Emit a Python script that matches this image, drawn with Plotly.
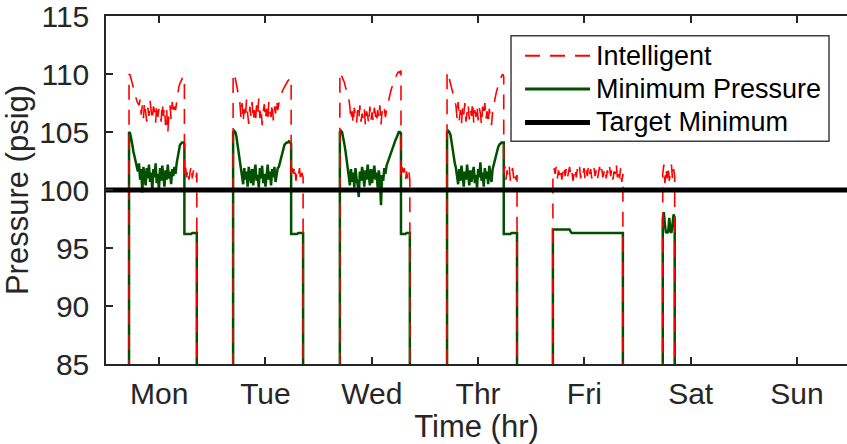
import numpy as np
import plotly.graph_objects as go

# ---------------------------------------------------------------------------
# Weekly header pressure log (psig) over a 168 h week.
# Each working day: start time, end of main shift, end of evening shift (hr).
# Values are listed in time order and spread evenly across their shift.
# ---------------------------------------------------------------------------
days = ["Mon", "Tue", "Wed", "Thr", "Fri", "Sat", "Sun"]
day_ticks = [12, 36, 60, 84, 108, 132, 156]
pressure_ticks = [85, 90, 95, 100, 105, 110, 115]
target_minimum = 100.0
off_value = 0.0  # compressors off: pressure falls away below the axis

mon_span = (5.2, 17.7, 20.5)
tue_span = (28.7, 41.8, 44.5)
wed_span = (52.8, 66.6, 68.6)
thr_span = (77.0, 89.8, 92.8)
fri_span = (100.9, 116.7, None)
sat_span = (125.7, 128.4, None)

# Intelligent control ------------------------------------------------------
mon_int_main = [110.0, 109.9, 109.5, 109.1, 108.7, 108.4, 108.0, 107.7, 107.5, 107.3,
                107.8, 106.5, 107.3, 106.2, 107.6, 106.8, 105.9, 107.1, 106.4, 107.7,
                106.6, 106.0, 107.2, 106.9, 105.8, 107.4, 106.3, 107.0, 106.7, 105.9,
                107.5, 106.4, 107.1, 105.6, 106.9, 104.9, 106.6, 107.3, 106.1, 107.6,
                106.5, 107.2, 106.9,
                107.6, 108.3, 108.9, 109.2, 109.4, 109.6, 109.5, 109.7]
mon_int_eve = [101.3, 102.0, 101.1, 101.8, 100.9, 101.6, 102.1, 101.0, 101.7, 101.2, 100.9, 101.5]

tue_int_main = [109.8, 110.1, 109.6, 109.2, 108.6, 108.0, 107.6,
                106.3, 107.5, 105.9, 107.0, 106.2, 107.8, 106.6, 105.7, 107.2, 106.4,
                107.6, 106.0, 106.9, 105.8, 107.3, 106.5, 107.9, 106.2, 107.1, 105.6,
                106.8, 107.4, 106.1, 107.0, 105.9, 107.6, 106.7, 106.3, 107.5, 106.0,
                107.2, 106.6, 107.8, 106.9, 107.5,
                107.9, 108.1, 108.5, 108.7, 108.9, 109.1, 109.2, 109.4, 109.5, 109.4, 109.6]
tue_int_eve = [101.0, 101.9, 101.4, 102.1, 100.8, 101.6, 101.2, 101.9, 100.7, 101.5, 101.1]

wed_int_main = [110.2, 110.0, 109.7, 109.6, 109.3, 108.9, 108.6, 108.2, 107.9,
                107.2, 106.0, 106.8, 105.7, 107.1, 106.3, 105.8, 106.9, 106.1, 107.3,
                105.9, 106.6, 106.2, 107.0, 105.6, 106.8, 106.4, 105.7, 107.2, 106.0,
                106.7, 105.9, 107.1, 106.5, 105.8, 106.9, 106.2, 107.3, 105.6, 106.8,
                106.4, 107.0, 106.3, 106.9,
                107.4, 107.8, 108.2, 108.6, 108.9, 109.2, 109.4, 109.7, 109.9, 110.1,
                110.2, 110.1, 110.3]
wed_int_eve = [101.2, 102.0, 101.5, 101.9, 100.8, 101.6, 101.0, 101.7, 100.9]

thr_int_main = [110.2, 110.0, 109.6, 109.3, 108.9, 108.5, 108.0, 107.5,
                107.3, 106.2, 107.6, 106.0, 106.9, 105.7, 107.2, 106.5, 107.5, 105.9,
                106.8, 107.4, 106.1, 107.0, 106.4, 107.6, 105.8, 106.9, 106.3, 107.3,
                106.0, 107.1, 106.6, 105.6, 107.2, 106.4, 107.5, 106.1, 106.8, 105.7,
                107.0, 106.3, 105.6, 106.8,
                107.2, 107.8, 108.3, 108.7, 109.1, 109.4, 109.6, 109.9, 110.0, 109.8]
thr_int_eve = [101.4, 102.1, 100.9, 101.7, 101.2, 102.0, 100.8, 101.5, 101.9, 101.0,
               101.6, 100.9, 101.3]

fri_int = [101.2, 101.9, 101.4, 102.0, 101.0, 101.7, 101.3, 101.9, 100.9, 101.6,
           102.1, 101.2, 101.8, 101.0, 101.5, 102.0, 101.3, 101.7, 100.8, 101.6,
           101.9, 101.1, 101.8, 101.4, 102.0, 101.0, 101.6, 101.3, 101.9, 100.9,
           101.7, 101.2, 102.1, 101.4, 101.8, 101.0, 101.5, 101.9, 101.2, 101.7,
           100.9, 101.6, 102.0, 101.3, 101.8, 101.1, 101.5, 101.9, 101.0, 101.7,
           101.3, 102.0, 101.2, 101.8, 100.9, 101.6, 101.4, 102.3, 101.1, 101.8,
           101.0, 101.9, 100.7, 101.4]

sat_int = [101.4, 102.2, 100.6, 101.9, 101.0, 102.1, 100.8, 101.7, 102.2, 100.9, 101.8, 101.2]

# Minimum pressure ---------------------------------------------------------
mon_min_main = [105.0, 104.9, 104.5, 103.9, 103.3, 102.8, 102.4, 102.1,
                101.6, 102.3, 100.9, 101.8, 99.8, 102.0, 101.2, 100.4, 101.9, 101.0,
                102.2, 100.7, 101.5, 99.9, 101.8, 101.1, 102.3, 100.6, 101.4, 100.0,
                101.9, 100.8, 102.1, 101.3, 100.3, 101.7, 100.9, 102.2, 101.0, 101.6,
                100.5, 101.8, 101.2, 102.0, 101.4,
                102.3, 102.9, 103.5, 103.9, 104.0, 104.1, 104.1, 104.0]
mon_min_eve = [96.2, 96.2, 96.2, 96.2, 96.2, 96.2, 96.2, 96.3, 96.3, 96.3, 96.3, 96.3]

tue_min_main = [105.0, 105.1, 105.0, 104.6, 103.9, 103.2, 102.6, 102.1,
                101.4, 100.5, 101.9, 100.9, 101.6, 100.3, 102.0, 101.2, 100.6, 101.8,
                100.4, 101.5, 102.2, 100.8, 101.3, 100.2, 101.9, 101.0, 102.1, 100.6,
                101.4, 100.3, 101.7, 102.2, 100.9, 101.6, 100.4, 101.8, 101.1, 102.0,
                100.7, 101.5, 101.9, 102.0,
                102.4, 102.9, 103.3, 103.7, 103.9, 104.0, 104.1, 104.1, 104.2, 104.1, 104.0]
tue_min_eve = [96.2, 96.2, 96.2, 96.2, 96.2, 96.2, 96.3, 96.3, 96.3, 96.3, 96.3]

wed_min_main = [105.0, 105.1, 105.0, 104.6, 104.0, 103.4, 102.8, 102.1,
                101.2, 100.4, 101.8, 100.7, 101.5, 100.2, 101.9, 101.0, 100.5, 99.4,
                101.6, 100.8, 102.0, 101.3, 100.3, 101.7, 100.9, 102.2, 101.1, 100.4,
                101.8, 100.6, 101.4, 102.1, 100.9, 101.5, 100.2, 101.7, 101.0, 98.7,
                101.3, 100.8, 101.9, 101.4,
                102.1, 102.4, 102.7, 103.0, 103.2, 103.5, 103.8, 104.0, 104.3, 104.5,
                104.8, 105.0, 105.0, 104.9]
wed_min_eve = [96.2, 96.2, 96.2, 96.2, 96.2, 96.3, 96.3, 96.3, 96.3]

thr_min_main = [105.0, 105.1, 105.0, 104.8, 104.2, 103.4, 102.9, 102.3, 101.9,
                101.3, 100.5, 101.8, 100.8, 102.1, 101.0, 100.3, 101.6, 100.9, 102.2,
                101.2, 100.4, 101.7, 100.7, 101.5, 102.0, 100.6, 101.3, 100.2, 101.8,
                101.1, 102.4, 100.8, 101.5, 100.3, 101.9, 101.0, 101.6, 100.5, 102.1,
                101.2, 100.7, 101.8, 102.2,
                102.6, 103.0, 103.4, 103.7, 103.9, 104.0, 104.1, 104.1, 104.1]
thr_min_eve = [96.2, 96.2, 96.2, 96.2, 96.2, 96.2, 96.2, 96.3, 96.3, 96.3, 96.3, 96.3, 96.3]

fri_min = [96.6] * 16 + [96.4] + [96.3] * 47

sat_min = [97.5, 98.1, 97.0, 96.3, 96.4, 96.3, 97.6, 96.5, 96.3, 97.3, 97.9, 97.6]


def build_week(segments):
    """Join daily shifts into one trace, dropping to off_value between them."""
    xs, ys = [], []
    for (t0, t1, t2), main, eve in segments:
        xs.append(t0)
        ys.append(off_value)
        xs.extend(np.linspace(t0, t1, len(main)).tolist())
        ys.extend(main)
        end = t1
        if eve is not None:
            xs.extend(np.linspace(t1, t2, len(eve)).tolist())
            ys.extend(eve)
            end = t2
        xs.append(end)
        ys.append(off_value)
    return xs, ys


int_x, int_y = build_week([
    (mon_span, mon_int_main, mon_int_eve),
    (tue_span, tue_int_main, tue_int_eve),
    (wed_span, wed_int_main, wed_int_eve),
    (thr_span, thr_int_main, thr_int_eve),
    (fri_span, fri_int, None),
    (sat_span, sat_int, None),
])
min_x, min_y = build_week([
    (mon_span, mon_min_main, mon_min_eve),
    (tue_span, tue_min_main, tue_min_eve),
    (wed_span, wed_min_main, wed_min_eve),
    (thr_span, thr_min_main, thr_min_eve),
    (fri_span, fri_min, None),
    (sat_span, sat_min, None),
])

RED = "#FF0000"
GREEN = "#005000"
INK = "#262626"
FONT = "Liberation Sans, Arial, sans-serif"
DASH = "15px,10px"
TICK_SIZE = 30
LABEL_SIZE = 31
LEGEND_SIZE = 27

fig = go.Figure()
fig.add_trace(go.Scatter(x=min_x, y=min_y, mode="lines", name="Minimum Pressure",
                         line=dict(color=GREEN, width=2.5)))
fig.add_trace(go.Scatter(x=int_x, y=int_y, mode="lines", name="Intelligent",
                         line=dict(color=RED, width=1.6, dash=DASH)))
fig.add_trace(go.Scatter(x=[0, 168], y=[target_minimum, target_minimum], mode="lines",
                         name="Target Minimum", line=dict(color="black", width=5)))

fig.update_layout(
    width=847, height=444,
    margin=dict(l=106, r=0, t=11, b=80),
    paper_bgcolor="white", plot_bgcolor="white",
    showlegend=False,
    font=dict(family=FONT, size=TICK_SIZE, color=INK),
)
fig.update_xaxes(
    range=[0, 167.3], tickvals=day_ticks, ticktext=days,
    ticks="inside", ticklen=7, tickwidth=1.5, tickcolor=INK,
    showline=True, linecolor=INK, linewidth=1.5, mirror="ticks",
    showgrid=False, zeroline=False, ticklabelstandoff=2,
    tickfont=dict(size=TICK_SIZE, color=INK),
    title=dict(text="Time (hr)", font=dict(size=LABEL_SIZE, color=INK), standoff=7),
)
fig.update_yaxes(
    range=[85, 115.01], tickvals=pressure_ticks,
    ticks="inside", ticklen=7, tickwidth=1.5, tickcolor=INK,
    showline=True, linecolor=INK, linewidth=1.5,
    showgrid=False, zeroline=False, ticklabelstandoff=9,
    ticklabeloverflow="allow",
    tickfont=dict(size=TICK_SIZE, color=INK),
    title=dict(text="Pressure (psig)", font=dict(size=LABEL_SIZE, color=INK), standoff=8),
)

# Legend box drawn in paper coordinates
legend_items = [("Intelligent", RED, 2, DASH, 0.886),
                ("Minimum Pressure", GREEN, 3, "solid", 0.790),
                ("Target Minimum", "black", 5, "solid", 0.694)]
fig.add_shape(type="rect", xref="paper", yref="paper",
              x0=0.5466, x1=0.9757, y0=0.6402, y1=0.9433,
              line=dict(color="#404040", width=1.5), fillcolor="white", layer="above")
for label, color, width, dash, ypos in legend_items:
    fig.add_shape(type="line", xref="paper", yref="paper",
                  x0=0.5655, x1=0.6532, y0=ypos, y1=ypos,
                  line=dict(color=color, width=width, dash=dash), layer="above")
    fig.add_annotation(xref="paper", yref="paper", x=0.6585, y=ypos,
                       xanchor="left", yanchor="middle", text=label, showarrow=False,
                       font=dict(family=FONT, size=LEGEND_SIZE, color="black"))

fig.write_html("out.html")
